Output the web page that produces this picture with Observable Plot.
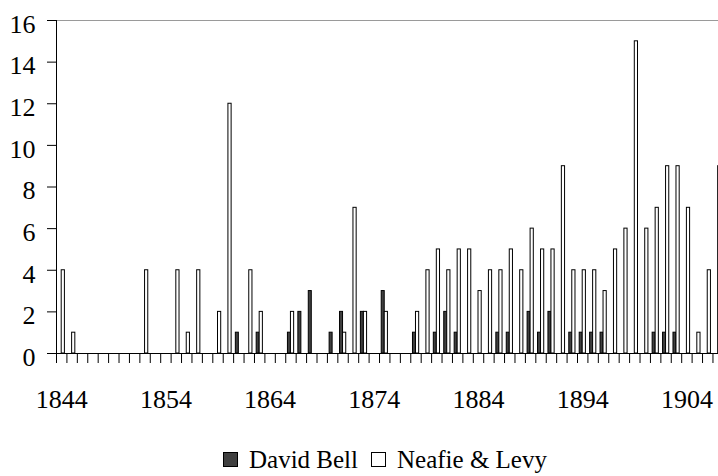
<!DOCTYPE html>
<html>
<head>
<meta charset="utf-8">
<script src="https://cdn.jsdelivr.net/npm/d3@7"></script>
<script src="https://cdn.jsdelivr.net/npm/@observablehq/plot@0.6"></script>
<style>
  html, body { margin: 0; padding: 0; background: white; overflow: hidden; width: 718px; height: 476px; }
  #chart svg { display: block; }
  #legend { position: relative; height: 46px; font-family: "Liberation Serif", "Times New Roman", Times, "DejaVu Serif", serif; font-size: 25px; color: black; }
  #legend .inner { position: absolute; left: 223px; top: 17px; display: flex; align-items: center; line-height: 25px; white-space: nowrap; }
  #legend .sw { width: 13px; height: 13px; border: 1px solid black; box-sizing: content-box; }
</style>
</head>
<body>
<div id="chart"></div>
<div id="legend"></div>
<script>
const years = [1844,1845,1846,1847,1848,1849,1850,1851,1852,1853,
  1854,1855,1856,1857,1858,1859,1860,1861,1862,1863,
  1864,1865,1866,1867,1868,1869,1870,1871,1872,1873,
  1874,1875,1876,1877,1878,1879,1880,1881,1882,1883,
  1884,1885,1886,1887,1888,1889,1890,1891,1892,1893,
  1894,1895,1896,1897,1898,1899,1900,1901,1902,1903,
  1904,1905,1906,1907];
const davidBell = [0,0,0,0,0,0,0,0,0,0,
  0,0,0,0,0,0,0,1,0,1,
  0,0,1,2,3,0,1,2,0,2,
  0,3,0,0,1,0,1,2,1,0,
  0,0,1,1,0,2,1,2,0,1,
  1,1,1,0,0,0,0,1,1,1,
  0,0,0,0];
const neafieLevy = [4,1,0,0,0,0,0,0,4,0,
  0,4,1,4,0,2,12,0,4,2,
  0,0,2,0,0,0,0,1,7,2,
  0,2,0,0,2,4,5,4,5,5,
  3,4,4,5,4,6,5,5,9,4,
  4,4,3,5,6,15,6,7,9,9,
  7,1,4,9];
const yTicks = [0,2,4,6,8,10,12,14,16];
const labelYears = [1844,1854,1864,1874,1884,1894,1904];
const seriesNames = ["David Bell", "Neafie & Levy"];
const seriesColors = ["#404040", "#ffffff"];

const rows = years.map((y, i) => ({year: y, bell: davidBell[i], levy: neafieLevy[i]}));
const catW = 10.42;
const left = 56;
const serif = "'Liberation Serif', 'Times New Roman', Times, 'DejaVu Serif', serif";

const chart = Plot.plot({
  width: 718,
  height: 430,
  marginLeft: left,
  marginRight: 0,
  marginTop: 20,
  marginBottom: 77,
  style: {fontFamily: serif, fontSize: "26px", color: "black", background: "white"},
  x: {type: "linear", domain: [years[0], years[years.length - 1] + 1], range: [left, left + years.length * catW], axis: null, label: null},
  y: {domain: [0, 16], axis: null, label: null},
  marks: [
    Plot.ruleY([16], {stroke: "#9a9a9a"}),
    Plot.rectY(rows.filter(d => d.bell > 0), {x1: "year", x2: d => d.year + 1, y: "bell", fill: seriesColors[0], stroke: "black", strokeWidth: 1, insetLeft: 2.2, insetRight: catW - 5.2}),
    Plot.rectY(rows.filter(d => d.levy > 0), {x1: "year", x2: d => d.year + 1, y: "levy", fill: seriesColors[1], stroke: "black", strokeWidth: 1, insetLeft: 5.2, insetRight: catW - 8.4}),
    Plot.ruleY([0], {stroke: "black"}),
    Plot.ruleX([years[0]], {stroke: "black"}),
    Plot.axisX({ticks: years, tickSize: 10, tickFormat: () => "", stroke: "black", label: null}),
    Plot.text(labelYears, {x: d => d + 0.5, y: 0, text: d => String(d), lineAnchor: "top", dy: 36, fontSize: 26, fontFamily: serif, fill: "black"}),
    Plot.axisY({ticks: yTicks, tickSize: 9, tickFormat: () => "", stroke: "black", label: null}),
    Plot.axisY({ticks: yTicks, tickSize: 0, tickPadding: 21, dy: 4, fontSize: 26, fontFamily: serif, fill: "black", label: null})
  ]
});
document.getElementById("chart").appendChild(chart);

const legend = document.getElementById("legend");
const inner = document.createElement("div");
inner.className = "inner";
seriesNames.forEach((name, i) => {
  const sw = document.createElement("span");
  sw.className = "sw";
  sw.style.background = seriesColors[i];
  sw.style.marginRight = "11px";
  if (i > 0) sw.style.marginLeft = "13px";
  const t = document.createElement("span");
  t.textContent = name;
  inner.appendChild(sw);
  inner.appendChild(t);
});
legend.appendChild(inner);
</script>
</body>
</html>
